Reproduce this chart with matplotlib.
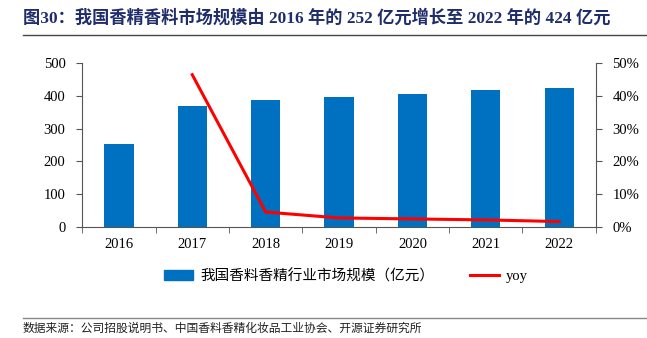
import numpy as np
import matplotlib.pyplot as plt
from matplotlib.lines import Line2D

plt.rcParams['font.family'] = ['Liberation Serif', 'Noto Sans CJK SC']

years = ["2016", "2017", "2018", "2019", "2020", "2021", "2022"]
market = [252, 369, 386, 397, 406, 416, 424]      # 亿元
yoy_years = ["2017", "2018", "2019", "2020", "2021", "2022"]
yoy = [46.4, 4.6, 2.8, 2.5, 2.2, 1.7]              # %

fig = plt.figure(figsize=(6.47, 3.38), dpi=100)
ax = fig.add_axes([0.127, 0.328, 0.794, 0.486])

x = np.arange(len(years))
ax.bar(x, market, width=0.4, color="#0070C0", zorder=2)
ax.set_xlim(-0.5, len(years) - 0.5)
ax.set_ylim(0, 500)
ax.set_yticks(range(0, 501, 100))
ax.set_xticks(x)
ax.set_xticklabels(years)
ax.set_xticks(np.arange(-0.5, len(years), 1), minor=True)
ax.tick_params(axis="x", which="major", length=0, pad=8)
ax.tick_params(axis="x", which="minor", length=4, direction="out", color="#555555")
ax.tick_params(axis="y", length=4, direction="out", color="#555555", pad=8)
ax.tick_params(labelsize=10.5)
for s in ["top", "right"]:
    ax.spines[s].set_visible(False)
ax.spines["left"].set_color("#555555")
ax.spines["bottom"].set_color("#555555")

ax2 = ax.twinx()
xi = [years.index(y) for y in yoy_years]
ax2.plot(xi, yoy, color="#FF0000", lw=2.2, zorder=3)
ax2.set_ylim(0, 50)
ax2.set_yticks(range(0, 51, 10))
ax2.set_yticklabels([f"{v}%" for v in range(0, 51, 10)])
ax2.tick_params(axis="y", length=4, direction="out", color="#555555",
                labelsize=10.5, pad=8)
for s in ["top", "left", "bottom"]:
    ax2.spines[s].set_visible(False)
ax2.spines["right"].set_color("#555555")

handles = [plt.Rectangle((0, 0), 1, 1, color="#0070C0"),
           Line2D([0], [0], color="#FF0000", lw=2.2)]
fig.legend(handles, ["我国香料香精行业市场规模（亿元）", "yoy"],
           loc="center", bbox_to_anchor=(0.535, 0.183), ncol=2, frameon=False,
           fontsize=10.5, handlelength=2.0, columnspacing=2.4, handletextpad=0.5)

fig.text(0.035, 0.947, "图30：我国香精香料市场规模由 2016 年的 252 亿元增长至 2022 年的 424 亿元",
         fontsize=12.4, fontweight="bold", color="#1F2D6B", va="center")
fig.add_artist(Line2D([0.035, 1.0], [0.895, 0.895], color="#444444", lw=1))
fig.add_artist(Line2D([0.035, 1.0], [0.059, 0.059], color="#888888", lw=1))
fig.text(0.035, 0.028, "数据来源：公司招股说明书、中国香料香精化妆品工业协会、开源证券研究所",
         fontsize=8.5, color="#222222", va="center")

fig.savefig("out.png", dpi=100)
